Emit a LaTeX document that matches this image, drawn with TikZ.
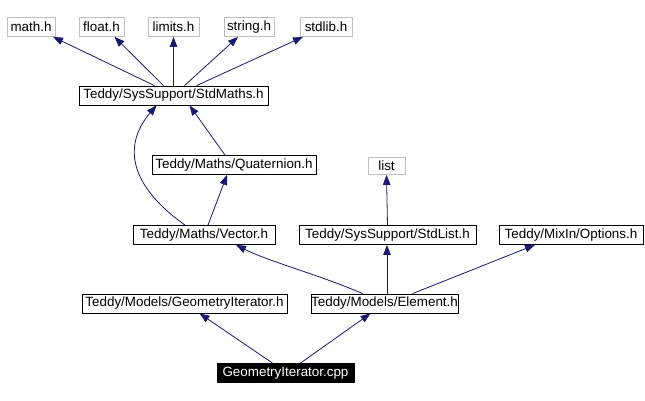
\documentclass[tikz,border=0pt]{standalone}
\usepackage{fontspec}
\setmainfont{Liberation Sans}
\usetikzlibrary{arrows.meta}
\definecolor{edgeblue}{HTML}{191970}
\definecolor{sysgray}{HTML}{BFBFBF}

\begin{document}
\begin{tikzpicture}[x=1pt, y=-1pt,
  box/.style={draw=black, line width=.8pt, inner xsep=0pt, inner ysep=0pt, minimum height=19pt, font=\fontsize{13.4}{15}\selectfont},
  sys/.style={box, draw=sysgray},
  dep/.style={edgeblue, line width=.8pt, -{Triangle[length=10pt,width=7.5pt]}}]
\useasboundingbox (0,0) rectangle (645,401);
% system headers
\node[sys, minimum width=48pt] (mathh) at (31,27) {math.h};
\node[sys, minimum width=45pt] (floath) at (101.5,27) {float.h};
\node[sys, minimum width=51pt] (limitsh) at (173.5,27) {limits.h};
\node[sys, minimum width=50pt] (stringh) at (249,27) {string.h};
\node[sys, minimum width=52pt] (stdlibh) at (326,27) {stdlib.h};
\node[sys, minimum width=37pt, minimum height=17pt] (listh) at (386.5,166) {list};
% project headers
\node[box, minimum width=189pt] (stdmaths) at (173.5,95.5) {Teddy/SysSupport/StdMaths.h};
\node[box, minimum width=164pt] (quat) at (234,165) {Teddy/Maths/Quaternion.h};
\node[box, minimum width=142pt] (vector) at (204,235) {Teddy/Maths/Vector.h};
\node[box, minimum width=177pt] (stdlist) at (387.5,235) {Teddy/SysSupport/StdList.h};
\node[box, minimum width=144pt] (options) at (571,235) {Teddy/MixIn/Options.h};
\node[box, minimum width=205pt] (geomh) at (184.5,303.5) {Teddy/Models/GeometryIterator.h};
\node[box, minimum width=147pt] (element) at (384.5,303.5) {Teddy/Models/Element.h};
\node[box, minimum width=137pt, fill=black, text=white] (cpp) at (285.5,373) {GeometryIterator.cpp};
% includes
\draw[dep] ([xshift=-19]stdmaths.north) -- ([xshift=22]mathh.south);
\draw[dep] ([xshift=-10]stdmaths.north) -- ([xshift=13]floath.south);
\draw[dep] (stdmaths.north) -- (limitsh.south);
\draw[dep] ([xshift=11]stdmaths.north) -- ([xshift=-11]stringh.south);
\draw[dep] ([xshift=23]stdmaths.north) -- ([xshift=-23]stdlibh.south);
\draw[dep] ([xshift=-9]quat.north) -- ([xshift=16]stdmaths.south);
\draw[dep] ([xshift=-19]vector.north) .. controls (122,180) and (127,140) .. ([xshift=-17]stdmaths.south);
\draw[dep] ([xshift=4]vector.north) -- ([xshift=-7]quat.south);
\draw[dep] ([xshift=-22]element.north) .. controls (320,275) and (270,262) .. ([xshift=32]vector.south);
\draw[dep] ([xshift=2.5]element.north) -- ([xshift=-.5]stdlist.south);
\draw[dep] ([xshift=28]element.north) -- ([xshift=-36]options.south);
\draw[dep] (stdlist.north) -- (listh.south);
\draw[dep] ([xshift=-13]cpp.north) -- ([xshift=15]geomh.south);
\draw[dep] ([xshift=15]cpp.north) -- ([xshift=-14]element.south);
\end{tikzpicture}
\end{document}
